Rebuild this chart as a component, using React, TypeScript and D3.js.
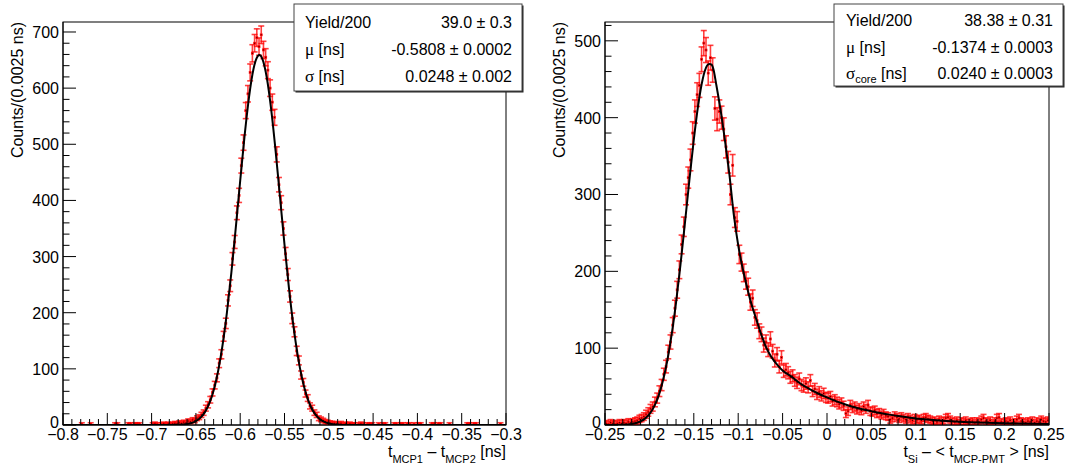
import React from "react";
import * as d3 from "d3";

const W = 1067;
const H = 468;
const BIN = 0.0025;

// ---------------- Left panel data ----------------
const leftDomain = [-0.8, -0.3];
const leftCounts = [
  0, 0, 0, 0, 0, 0, 0, 0, 1, 0,
  0, 0, 1, 0, 0, 0, 0, 0, 0, 0,
  0, 0, 0, 1, 1, 0, 0, 0, 0, 1,
  1, 0, 1, 1, 1, 0, 0, 0, 0, 0,
  1, 2, 1, 0, 1, 2, 1, 2, 1, 2,
  3, 2, 4, 3, 5, 4, 7, 6, 9, 8,
  12, 14, 18, 22, 30, 36, 45, 58, 71, 84,
  110, 126, 158, 181, 222, 248, 296, 326, 378, 409,
  462, 503, 560, 590, 628, 662, 680, 690, 674, 695,
  668, 655, 632, 600, 575, 548, 482, 428, 396, 350,
  305, 268, 229, 190, 166, 132, 115, 89, 76, 56,
  48, 34, 30, 22, 18, 12, 10, 8, 6, 5,
  4, 3, 3, 2, 2, 3, 1, 2, 1, 2,
  1, 1, 0, 1, 2, 1, 0, 1, 1, 1,
  0, 0, 1, 0, 1, 1, 0, 0, 0, 1,
  1, 0, 1, 1, 0, 1, 1, 0, 1, 0,
  1, 1, 0, 0, 0, 0, 1, 1, 0, 1,
  1, 0, 0, 0, 1, 0, 0, 0, 0, 0,
  0, 0, 1, 1, 0, 1, 1, 0, 0, 0,
  0, 0, 0, 0, 0, 0, 0, 1, 0, 0,
];
const leftFitX = [
  -0.8, -0.7, -0.68, -0.67, -0.66, -0.655, -0.65, -0.645, -0.64, -0.635,
  -0.63, -0.625, -0.62, -0.615, -0.61, -0.605, -0.6, -0.595, -0.59, -0.585,
  -0.58, -0.5784, -0.575, -0.57, -0.565, -0.56, -0.555, -0.55, -0.545, -0.54,
  -0.535, -0.53, -0.525, -0.52, -0.515, -0.51, -0.505, -0.5, -0.49, -0.48, -0.3,
];
const leftFitY = [
  0, 0, 0.07, 0.38, 1.8, 3.6, 6.9, 12.7, 22.5, 38,
  61.6, 95.3, 141.2, 200, 270.9, 351, 435, 515.7, 584.6, 634,
  657.5, 659, 652.3, 618.9, 561.7, 487.5, 404.8, 321.4, 244.1, 177.3,
  123.2, 81.9, 52.1, 31.6, 18.4, 10.2, 5.45, 2.77, 0.63, 0.12, 0,
];
const leftStatLabels = ["Yield/200", "μ [ns]", "σ [ns]"];
const leftStatValues = ["39.0 ± 0.3", "-0.5808 ± 0.0002", "0.0248 ± 0.002"];

// ---------------- Right panel data ----------------
const rightDomain = [-0.25, 0.25];
const rightCounts = [
  2, 1, 3, 2, 1, 2, 3, 2, 3, 2,
  4, 3, 4, 5, 6, 8, 9, 11, 14, 17,
  21, 24, 30, 35, 44, 52, 66, 76, 95, 108,
  130, 152, 176, 202, 235, 258, 300, 322, 345, 380,
  408, 430, 442, 476, 497, 488, 458, 478, 462, 412,
  398, 408, 400, 385, 362, 342, 300, 338, 270, 265,
  222, 212, 198, 188, 180, 160, 165, 140, 136, 122,
  118, 104, 108, 98, 112, 96, 84, 92, 76, 88,
  70, 72, 68, 62, 64, 58, 55, 60, 52, 50,
  54, 49, 58, 44, 47, 40, 43, 38, 41, 36,
  35, 37, 31, 33, 30, 27, 29, 25, 15, 18,
  26, 22, 24, 20, 22, 19, 24, 21, 26, 18,
  17, 19, 15, 16, 13, 15, 12, 11, 7, 9,
  12, 10, 8, 11, 9, 7, 10, 8, 6, 9,
  7, 8, 6, 9, 10, 8, 7, 5, 6, 4,
  7, 5, 6, 9, 10, 7, 5, 4, 6, 3,
  5, 4, 6, 3, 4, 5, 3, 5, 4, 7,
  9, 5, 4, 6, 3, 5, 9, 10, 4, 3,
  5, 4, 6, 3, 4, 7, 9, 5, 4, 3,
  5, 4, 6, 3, 5, 4, 7, 5, 4, 6,
];
const rightFitX = [
  -0.25, -0.23, -0.22, -0.21, -0.205, -0.2, -0.195, -0.19, -0.185, -0.18,
  -0.175, -0.17, -0.165, -0.16, -0.155, -0.15, -0.145, -0.14, -0.135, -0.1325,
  -0.13, -0.1275, -0.125, -0.12, -0.115, -0.11, -0.105, -0.1, -0.095, -0.09,
  -0.085, -0.08, -0.075, -0.07, -0.065, -0.06, -0.055, -0.05, -0.04, -0.03,
  -0.02, -0.01, 0, 0.01, 0.02, 0.03, 0.04, 0.05, 0.06, 0.07,
  0.08, 0.09, 0.1, 0.12, 0.14, 0.16, 0.18, 0.2, 0.22, 0.25,
];
const rightFitY = [
  0, 0.3, 1.3, 4.6, 8.3, 14.1, 23.3, 37, 56.5, 82.9,
  117.2, 159.4, 208.6, 262.8, 318.5, 371.4, 416.8, 450.1, 467.8, 470,
  469, 461, 445, 411, 371, 327, 274, 234, 204, 179,
  157, 139, 121, 105, 93, 84, 77, 71, 63, 54,
  47, 41, 36, 31, 27, 23.5, 20.5, 18, 15.6, 13.5,
  11.6, 10, 8.6, 6.4, 4.8, 3.7, 2.9, 2.3, 1.8, 1.3,
];
const rightStatLabels = ["Yield/200", "μ [ns]", "σ_core [ns]"];
const rightStatValues = ["38.38 ± 0.31", "-0.1374 ± 0.0003", "0.0240 ± 0.0003"];

const yTitleText = "Counts/(0.0025 ns)";
const leftXTitle = [
  { t: "t" }, { t: "MCP1", sub: true }, { t: " – t" }, { t: "MCP2", sub: true }, { t: " [ns]" },
];
const rightXTitle = [
  { t: "t" }, { t: "Si", sub: true }, { t: " – < t" }, { t: "MCP-PMT", sub: true }, { t: " > [ns]" },
];

const FONT = "'Liberation Sans', Arial, Helvetica, sans-serif";
const SERIF = "'Liberation Serif', 'Times New Roman', serif";

function fmtTick(v: number) {
  const r = Math.round(v * 1000) / 1000;
  return String(r).replace("-", "−");
}

function StatLabel({ text, x, y }: { text: string; x: number; y: number }) {
  const greek = /^[μσ]/.test(text);
  if (!greek) return <text x={x} y={y}>{text}</text>;
  const g = text[0];
  let rest = text.slice(1);
  let sub: string | null = null;
  const m = rest.match(/^_(\w+)(.*)$/);
  if (m) {
    sub = m[1];
    rest = m[2];
  }
  return (
    <text x={x} y={y}>
      <tspan fontFamily={SERIF} fontSize={17}>{g}</tspan>
      {sub && (
        <tspan fontSize={11} dy={4}>{sub}</tspan>
      )}
      <tspan dy={sub ? -4 : 0}>{rest}</tspan>
    </text>
  );
}

type PanelProps = {
  id: string;
  left: number;
  right: number;
  top: number;
  bottom: number;
  domain: number[];
  yMax: number;
  counts: number[];
  fitX: number[];
  fitY: number[];
  errA: number;
  errB: number;
  xTitle: { t: string; sub?: boolean }[];
  statLabels: string[];
  statValues: string[];
  box: { x0: number; x1: number; y0: number; y1: number; tx: number; vx: number; rows: number[] };
};

function Panel(p: PanelProps) {
  const x = d3.scaleLinear().domain(p.domain).range([p.left, p.right]);
  const y = d3.scaleLinear().domain([0, p.yMax]).range([p.bottom, p.top]);

  const nMinorX = Math.round((p.domain[1] - p.domain[0]) / 0.01);
  const xTicks = d3.range(nMinorX + 1).map((k) => ({
    v: p.domain[0] + k * 0.01,
    major: k % 5 === 0,
  }));
  const yTicks = d3.range(0, Math.floor(p.yMax / 20) + 1).map((k) => ({
    v: k * 20,
    major: k % 5 === 0,
  }));

  const line = d3
    .line<number>()
    .x((_, i) => x(p.fitX[i]))
    .y((d) => y(d))
    .curve(d3.curveMonotoneX);

  const pts = p.counts
    .map((c, i) => ({ c, xc: p.domain[0] + (i + 0.5) * BIN }))
    .filter((d) => d.c > 0);

  const red = "#ff0000";
  const cap = 3;

  return (
    <g>
      <defs>
        <clipPath id={"clip-" + p.id}>
          <rect x={p.left} y={p.top} width={p.right - p.left} height={p.bottom - p.top} />
        </clipPath>
      </defs>
      {/* frame */}
      <rect
        x={p.left}
        y={p.top}
        width={p.right - p.left}
        height={p.bottom - p.top}
        fill="white"
        stroke="black"
        strokeWidth={1}
      />
      {/* data points */}
      <g clipPath={`url(#clip-${p.id})`}>
        {pts.map((d, i) => {
          const e = p.errA * Math.sqrt(d.c) + p.errB;
          const cx = x(d.xc);
          const cy = y(d.c);
          const yt = y(d.c + e);
          const yb = y(Math.max(d.c - e, 0));
          const xl = x(d.xc - BIN / 2);
          const xr = x(d.xc + BIN / 2);
          return (
            <g key={i} stroke={red} strokeOpacity={0.75} strokeWidth={1.6} fill="none">
              <line x1={cx} x2={cx} y1={yt} y2={yb} />
              <line x1={cx - cap} x2={cx + cap} y1={yt} y2={yt} />
              <line x1={cx - cap} x2={cx + cap} y1={yb} y2={yb} />
              <line x1={xl} x2={xr} y1={cy} y2={cy} />
            </g>
          );
        })}
        {pts.map((d, i) => (
          <rect
            key={"s" + i}
            x={x(d.xc) - 1.4}
            y={y(d.c) - 1.4}
            width={2.8}
            height={2.8}
            fill={red}
            fillOpacity={0.8}
          />
        ))}
        {pts.map((d, i) => (
          <rect key={"m" + i} x={x(d.xc) - 0.5} y={y(d.c) - 0.5} width={1} height={1} fill="#300" />
        ))}
        <path d={line(p.fitY) || ""} fill="none" stroke="black" strokeWidth={2} />
      </g>
      {/* axes */}
      <g stroke="black" strokeWidth={1}>
        <line x1={p.left} x2={p.right} y1={p.bottom} y2={p.bottom} />
        {xTicks.map((t, i) => (
          <line
            key={i}
            x1={x(t.v)}
            x2={x(t.v)}
            y1={p.bottom}
            y2={p.bottom - (t.major ? 12 : 6)}
          />
        ))}
        <line x1={p.left} x2={p.left} y1={p.top} y2={p.bottom} />
        {yTicks.map((t, i) => (
          <line
            key={i}
            x1={p.left}
            x2={p.left + (t.major ? 13 : 6.5)}
            y1={y(t.v)}
            y2={y(t.v)}
          />
        ))}
      </g>
      <g fontFamily={FONT} fontSize={16} fill="black">
        {xTicks
          .filter((t) => t.major)
          .map((t, i) => (
            <text key={i} x={x(t.v)} y={p.bottom + 15} textAnchor="middle">
              {fmtTick(t.v)}
            </text>
          ))}
        {yTicks
          .filter((t) => t.major)
          .map((t, i) => (
            <text key={i} x={p.left - 4} y={y(t.v) + (t.v === 0 ? 3 : 6)} textAnchor="end">
              {String(t.v)}
            </text>
          ))}
        <text
          transform={`translate(${p.left - 40},${p.top}) rotate(-90)`}
          textAnchor="end"
        >
          {yTitleText}
        </text>
        <text x={p.right} y={p.bottom + 32} textAnchor="end">
          {p.xTitle.map((s, i) => {
            const prevSub = i > 0 && p.xTitle[i - 1].sub;
            const dy = s.sub ? 6 : prevSub ? -6 : 0;
            return (
              <tspan key={i} dy={dy} fontSize={s.sub ? 11 : 16}>
                {s.t}
              </tspan>
            );
          })}
        </text>
      </g>
      {/* stat box */}
      <g>
        <rect
          x={p.box.x0 + 1.5}
          y={p.box.y0 + 1.5}
          width={p.box.x1 - p.box.x0}
          height={p.box.y1 - p.box.y0}
          fill="#222"
        />
        <rect
          x={p.box.x0}
          y={p.box.y0}
          width={p.box.x1 - p.box.x0}
          height={p.box.y1 - p.box.y0}
          fill="white"
          stroke="#444"
          strokeWidth={1}
        />
        <g fontFamily={FONT} fontSize={16} fill="black">
          {p.statLabels.map((l, i) => (
            <StatLabel key={i} text={l} x={p.box.tx} y={p.box.rows[i]} />
          ))}
          {p.statValues.map((v, i) => (
            <text key={i} x={p.box.vx} y={p.box.rows[i]} textAnchor="end">
              {v}
            </text>
          ))}
        </g>
      </g>
    </g>
  );
}

export default function App() {
  return (
    <div style={{ position: "absolute", left: 0, top: 0, width: W, height: H, background: "white" }}>
      <svg width={W} height={H} viewBox={`0 0 ${W} ${H}`} style={{ display: "block" }}>
        <rect x={0} y={0} width={W} height={H} fill="white" />
        <Panel
          id="L"
          left={63}
          right={506}
          top={22}
          bottom={425}
          domain={leftDomain}
          yMax={717.8}
          counts={leftCounts}
          fitX={leftFitX}
          fitY={leftFitY}
          errA={0.5}
          errB={2.5}
          xTitle={leftXTitle}
          statLabels={leftStatLabels}
          statValues={leftStatValues}
          box={{ x0: 294, x1: 522, y0: 4, y1: 91, tx: 305, vx: 512, rows: [28, 55, 82] }}
        />
        <Panel
          id="R"
          left={605}
          right={1049}
          top={22}
          bottom={425}
          domain={rightDomain}
          yMax={524.5}
          counts={rightCounts}
          fitX={rightFitX}
          fitY={rightFitY}
          errA={0.6}
          errB={3}
          xTitle={rightXTitle}
          statLabels={rightStatLabels}
          statValues={rightStatValues}
          box={{ x0: 834, x1: 1063, y0: 4, y1: 86, tx: 846, vx: 1053, rows: [26, 53, 79] }}
        />
      </svg>
    </div>
  );
}
